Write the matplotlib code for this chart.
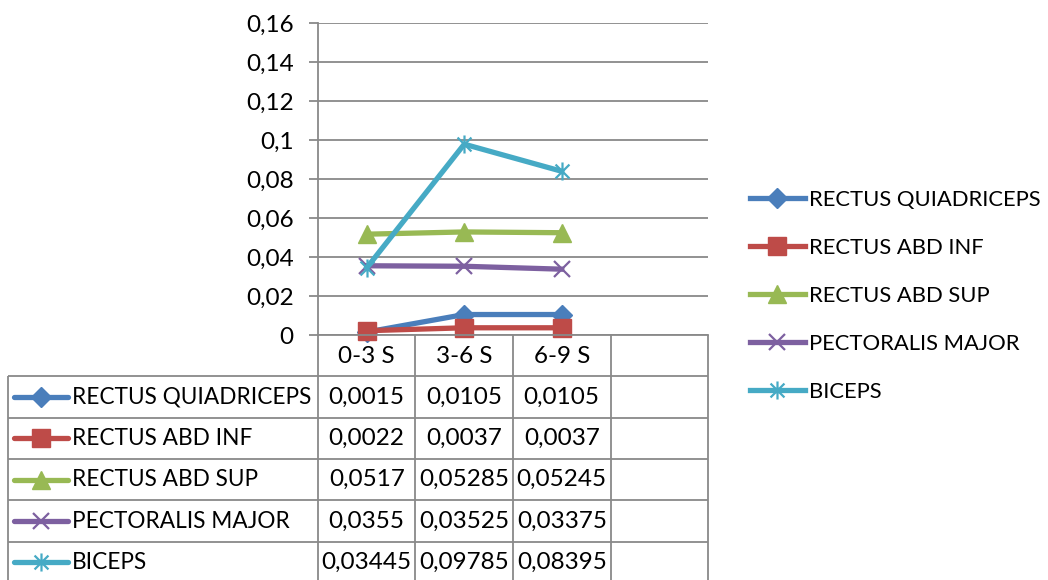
import numpy as np
import matplotlib.pyplot as plt
from matplotlib.path import Path

plt.rcParams['font.family'] = ['Lato', 'DejaVu Sans']

categories = ["0-3 S", "3-6 S", "6-9 S", ""]
series_names = ["RECTUS QUIADRICEPS", "RECTUS ABD INF", "RECTUS ABD SUP",
                "PECTORALIS MAJOR", "BICEPS"]
quadriceps = [0.0015, 0.0105, 0.0105]
abd_inf = [0.0022, 0.0037, 0.0037]
abd_sup = [0.0517, 0.05285, 0.05245]
pectoralis = [0.0355, 0.03525, 0.03375]
biceps = [0.03445, 0.09785, 0.08395]
series_values = [quadriceps, abd_inf, abd_sup, pectoralis, biceps]
yticks = [0, 0.02, 0.04, 0.06, 0.08, 0.1, 0.12, 0.14, 0.16]

# excel-ish star marker: an X with a vertical bar
star = Path([(-1, -1), (1, 1), (-1, 1), (1, -1), (0, -1.3), (0, 1.3)],
            [Path.MOVETO, Path.LINETO] * 3)

styles = [
    dict(color='#4A7EBB', marker='D', ms=10),
    dict(color='#BE4B48', marker='s', ms=13),
    dict(color='#98B954', marker='^', ms=13),
    dict(color='#7D60A0', marker='x', ms=12, mew=1.6),
    dict(color='#46AAC5', marker=star, ms=13, mew=1.6, mfc='none'),
]

FS = 16.3      # text labels
FN = 17.5      # numbers
FL = 15.8      # legend
GRID = '#898989'
W, H = 1048, 580


def fmt(v):
    return ('%g' % v).replace('.', ',')


fig = plt.figure(figsize=(W / 100, H / 100), dpi=100)
ax = fig.add_axes([318 / W, (H - 335) / H, 390 / W, 312 / H])

lines = []
for name, vals, st in zip(series_names, series_values, styles):
    ln, = ax.plot(range(len(vals)), vals, lw=3.8, label=name, clip_on=False, **st)
    lines.append(ln)

ax.set_xlim(-0.5, len(categories) - 0.5)
ax.set_ylim(0, 0.16)
ax.set_yticks(yticks)
ax.set_yticklabels([fmt(t) for t in yticks], fontsize=FN)
ax.set_xticks([])
ax.yaxis.grid(True, color=GRID, lw=1.3)
ax.set_axisbelow(True)
ax.tick_params(axis='y', length=6.5, width=1.3, color=GRID, pad=11)
for s in ['top', 'right']:
    ax.spines[s].set_visible(False)
for s in ['left', 'bottom']:
    ax.spines[s].set_color(GRID)
    ax.spines[s].set_linewidth(1.3)

# data table below the plot
unit = 390 / len(categories)
x_left = -0.5 - (318 - 8) / unit
nrows = len(series_names) + 1
tax = fig.add_axes([8 / W, -3 / H, 700 / W, 248 / H])
tax.set_xlim(x_left, len(categories) - 0.5)
tax.set_ylim(nrows, 0)
tax.axis('off')

edges = np.arange(len(categories) + 1) - 0.5
tax.vlines(edges, 0, nrows, color=GRID, lw=1.3, clip_on=False)
tax.vlines(x_left, 1, nrows, color=GRID, lw=1.3, clip_on=False)
tax.hlines(np.arange(1, nrows + 1), x_left, edges[-1], color=GRID, lw=1.3, clip_on=False)

for i, c in enumerate(categories):
    tax.text(i, 0.52, c, ha='center', va='center', fontsize=FN)


def px2x(px):
    return -0.5 + (px - 318) / unit


for r, (name, vals, st) in enumerate(zip(series_names, series_values, styles)):
    yy = r + 1.5
    tax.plot([px2x(14), px2x(68)], [yy, yy], lw=3.8, color=st['color'],
             solid_capstyle='round', clip_on=False)
    tax.plot([px2x(41)], [yy], clip_on=False, **st)
    tax.text(px2x(72), yy, name, ha='left', va='center', fontsize=FS)
    for i, v in enumerate(vals):
        tax.text(i, yy, fmt(v), ha='center', va='center', fontsize=FN)

fig.legend(lines, series_names, loc='upper left',
           bbox_to_anchor=(741 / W, 1 - 181 / H), frameon=False, fontsize=FL,
           handlelength=2.5, handletextpad=0.2, labelspacing=1.28, borderaxespad=0)

fig.savefig('out.png', dpi=100)
